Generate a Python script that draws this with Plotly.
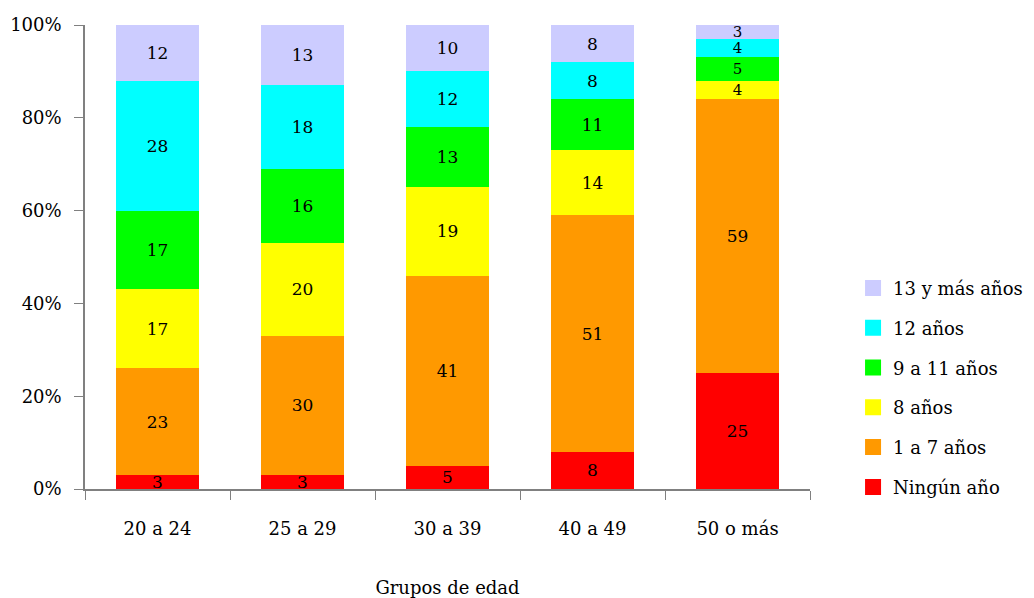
import plotly.graph_objects as go

# Age groups and share of each schooling level (percent)
grupos = ["20 a 24", "25 a 29", "30 a 39", "40 a 49", "50 o más"]
niveles = ["Ningún año", "1 a 7 años", "8 años", "9 a 11 años", "12 años", "13 y más años"]
ningun = [3, 3, 5, 8, 25]
uno_siete = [23, 30, 41, 51, 59]
ocho = [17, 20, 19, 14, 4]
nueve_once = [17, 16, 13, 11, 5]
doce = [28, 18, 12, 8, 4]
trece_mas = [12, 13, 10, 8, 3]
y_ticks = [0, 20, 40, 60, 80, 100]

series = [ningun, uno_siete, ocho, nueve_once, doce, trece_mas]
colores = ["#FF0000", "#FF9900", "#FFFF00", "#00FF00", "#00FFFF", "#CCCCFF"]

FONT = "DejaVu Serif"
fig = go.Figure()


def label_sizes(valores):
    # thin stacked segments in the last group get a slightly smaller label
    return [15 if (i == len(valores) - 1 and v < 6) else 17
            for i, v in enumerate(valores)]


for nombre, valores, color in zip(niveles, series, colores):
    fig.add_trace(go.Bar(
        x=grupos, y=valores, name=nombre,
        marker=dict(color=color, line=dict(width=0)),
        text=valores, texttemplate="%{text}",
        textposition="inside", insidetextanchor="middle", textangle=0,
        textfont=dict(family=FONT, size=label_sizes(valores), color="black"),
        constraintext="none", showlegend=False,
    ))

# legend entries with larger square swatches, highest level listed first
for i, (nombre, color) in enumerate(zip(niveles[::-1], colores[::-1])):
    fig.add_trace(go.Scatter(
        x=[None], y=[None], mode="markers", name=nombre,
        marker=dict(symbol="square", size=18, color=color),
        legendgroup=f"g{i}", showlegend=True,
    ))

fig.update_layout(
    barmode="stack",
    bargap=0.434,
    width=1034, height=598,
    margin=dict(l=85, r=224, t=25, b=109, autoexpand=False),
    plot_bgcolor="white", paper_bgcolor="white",
    font=dict(family=FONT, size=18, color="black"),
    legend=dict(
        xref="container", yref="container",
        x=0.825, y=0.549, xanchor="left", yanchor="top",
        traceorder="grouped", tracegroupgap=13.4,
        font=dict(family=FONT, size=18, color="black"),
        itemsizing="trace", bgcolor="rgba(0,0,0,0)",
    ),
)

fig.update_xaxes(
    type="category", showgrid=False, showline=True,
    linecolor="#808080", linewidth=1.5,
    ticks="outside", tickson="boundaries", ticklen=9, tickcolor="#808080",
    ticklabelstandoff=23,
    title=dict(text="Grupos de edad", standoff=43, font=dict(family=FONT, size=18)),
)
fig.update_yaxes(
    range=[0, 100], tickvals=y_ticks, ticktext=[f"{v}%" for v in y_ticks],
    showgrid=False, showline=True, zeroline=False,
    linecolor="#808080", linewidth=1.5,
    ticks="outside", ticklen=9, tickcolor="#808080",
    ticklabelstandoff=9,
)

fig.write_html("out.html")
